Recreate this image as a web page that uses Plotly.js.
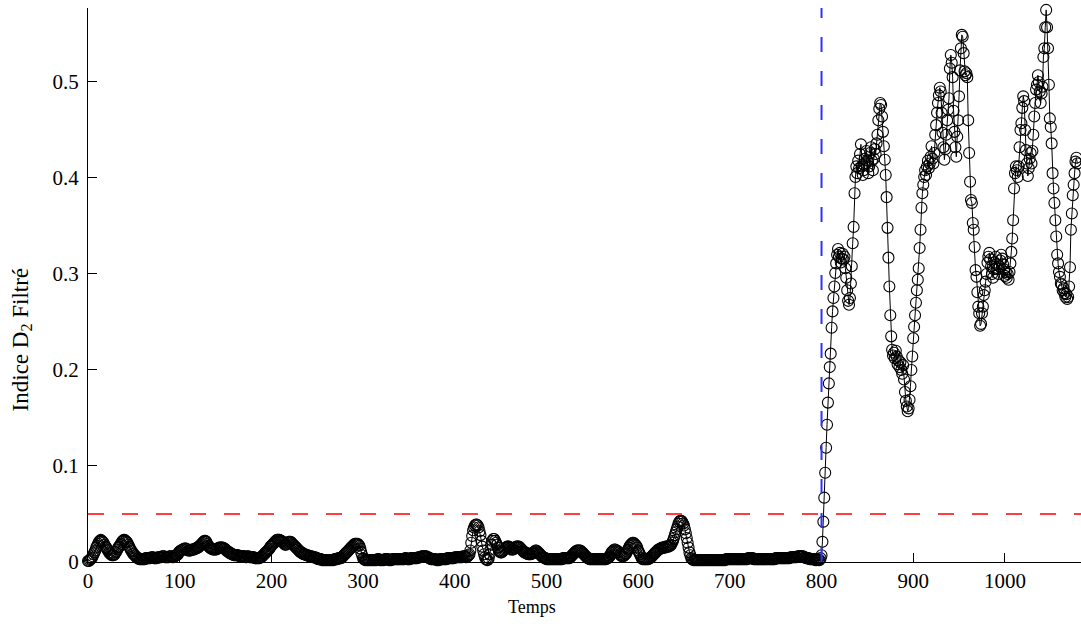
<!DOCTYPE html>
<html>
<head>
<meta charset="utf-8">
<script src="https://cdn.plot.ly/plotly-3.0.1.min.js"></script>
<style>html,body{margin:0;padding:0;background:#fff;}#chart{width:1081px;height:624px;}</style>
</head>
<body>
<div id="chart"></div>
<script>
// ---- Data (one sample per time unit) ----
// Phase 1: t = 0 .. 795
const debutPhase1 = 0;
const indicePhase1 = [
 0.001,0.001,0.002,0.003,0.004,0.006,0.008,0.010,0.012,0.015,0.017,0.019,0.021,0.022,0.023,0.022,0.021,0.020,0.018,0.016,
 0.015,0.013,0.012,0.010,0.009,0.008,0.007,0.007,0.007,0.008,0.010,0.011,0.013,0.015,0.016,0.018,0.019,0.021,0.022,0.023,
 0.023,0.022,0.021,0.020,0.018,0.016,0.014,0.012,0.011,0.009,0.008,0.007,0.006,0.005,0.004,0.004,0.003,0.003,0.003,0.003,
 0.003,0.003,0.003,0.004,0.004,0.004,0.004,0.004,0.004,0.005,0.005,0.005,0.004,0.004,0.004,0.004,0.005,0.005,0.005,0.005,
 0.005,0.006,0.006,0.006,0.005,0.005,0.005,0.005,0.005,0.006,0.006,0.006,0.005,0.005,0.006,0.006,0.007,0.007,0.008,0.010,
 0.011,0.012,0.012,0.013,0.013,0.014,0.014,0.014,0.013,0.012,0.012,0.012,0.012,0.013,0.013,0.013,0.013,0.014,0.014,0.015,
 0.015,0.016,0.017,0.018,0.019,0.020,0.021,0.022,0.022,0.021,0.019,0.017,0.016,0.015,0.014,0.014,0.013,0.013,0.013,0.013,
 0.013,0.014,0.014,0.015,0.015,0.015,0.015,0.015,0.014,0.014,0.013,0.012,0.011,0.011,0.010,0.009,0.009,0.008,0.008,0.007,
 0.007,0.007,0.007,0.007,0.007,0.006,0.006,0.006,0.006,0.006,0.006,0.006,0.005,0.005,0.006,0.006,0.005,0.005,0.005,0.005,
 0.005,0.005,0.004,0.004,0.004,0.004,0.004,0.004,0.005,0.005,0.006,0.007,0.008,0.009,0.010,0.011,0.012,0.013,0.014,0.016,
 0.017,0.018,0.019,0.020,0.021,0.022,0.023,0.023,0.023,0.023,0.022,0.022,0.021,0.020,0.019,0.018,0.018,0.019,0.020,0.021,
 0.021,0.021,0.020,0.019,0.018,0.017,0.016,0.015,0.014,0.013,0.012,0.011,0.010,0.010,0.009,0.008,0.008,0.008,0.007,0.007,
 0.007,0.006,0.006,0.006,0.006,0.005,0.005,0.005,0.005,0.004,0.004,0.003,0.003,0.003,0.003,0.002,0.002,0.002,0.002,0.002,
 0.002,0.002,0.002,0.002,0.002,0.002,0.002,0.002,0.002,0.003,0.003,0.003,0.003,0.004,0.004,0.004,0.004,0.005,0.006,0.007,
 0.008,0.009,0.010,0.011,0.012,0.013,0.014,0.015,0.016,0.017,0.018,0.019,0.019,0.019,0.019,0.018,0.017,0.014,0.010,0.007,
 0.004,0.003,0.002,0.002,0.002,0.002,0.002,0.002,0.002,0.002,0.002,0.002,0.002,0.002,0.002,0.002,0.003,0.003,0.002,0.002,
 0.002,0.002,0.002,0.002,0.003,0.003,0.003,0.003,0.002,0.002,0.002,0.002,0.003,0.003,0.003,0.003,0.003,0.003,0.003,0.003,
 0.003,0.003,0.003,0.003,0.003,0.003,0.004,0.004,0.003,0.003,0.003,0.003,0.004,0.004,0.004,0.004,0.004,0.004,0.004,0.004,
 0.005,0.005,0.005,0.005,0.006,0.006,0.006,0.006,0.006,0.006,0.005,0.005,0.004,0.004,0.003,0.003,0.003,0.003,0.003,0.003,
 0.002,0.002,0.002,0.002,0.003,0.003,0.003,0.003,0.003,0.003,0.003,0.003,0.004,0.004,0.004,0.004,0.004,0.004,0.004,0.004,
 0.005,0.005,0.005,0.005,0.005,0.005,0.005,0.005,0.005,0.006,0.006,0.006,0.005,0.005,0.006,0.007,0.008,0.012,0.020,0.027,
 0.033,0.036,0.038,0.039,0.039,0.038,0.036,0.032,0.028,0.022,0.016,0.012,0.008,0.005,0.003,0.002,0.002,0.004,0.008,0.013,
 0.018,0.022,0.024,0.024,0.022,0.020,0.018,0.015,0.012,0.011,0.010,0.010,0.011,0.012,0.013,0.014,0.015,0.016,0.016,0.016,
 0.015,0.014,0.013,0.013,0.013,0.014,0.015,0.016,0.016,0.016,0.016,0.015,0.014,0.013,0.012,0.011,0.010,0.010,0.009,0.009,
 0.008,0.008,0.008,0.008,0.009,0.009,0.010,0.011,0.012,0.012,0.011,0.010,0.009,0.008,0.007,0.006,0.005,0.005,0.004,0.004,
 0.003,0.003,0.003,0.003,0.003,0.003,0.003,0.003,0.003,0.003,0.003,0.003,0.003,0.003,0.003,0.003,0.003,0.003,0.004,0.004,
 0.004,0.004,0.004,0.004,0.004,0.004,0.005,0.006,0.007,0.008,0.009,0.010,0.011,0.012,0.012,0.012,0.012,0.012,0.011,0.010,
 0.009,0.008,0.007,0.006,0.005,0.004,0.004,0.003,0.003,0.003,0.003,0.003,0.003,0.003,0.003,0.003,0.003,0.003,0.003,0.003,
 0.003,0.003,0.003,0.003,0.003,0.003,0.004,0.004,0.005,0.006,0.008,0.010,0.011,0.012,0.013,0.013,0.012,0.012,0.011,0.010,
 0.008,0.007,0.006,0.006,0.006,0.007,0.008,0.009,0.011,0.013,0.015,0.017,0.018,0.019,0.020,0.020,0.019,0.018,0.017,0.015,
 0.012,0.010,0.008,0.006,0.004,0.003,0.003,0.003,0.003,0.003,0.003,0.003,0.004,0.004,0.005,0.006,0.007,0.008,0.009,0.010,
 0.011,0.012,0.013,0.013,0.014,0.014,0.015,0.015,0.015,0.015,0.016,0.016,0.016,0.016,0.017,0.017,0.018,0.020,0.022,0.025,
 0.028,0.031,0.034,0.037,0.040,0.042,0.043,0.043,0.042,0.040,0.038,0.034,0.030,0.025,0.020,0.015,0.010,0.007,0.004,0.003,
 0.002,0.002,0.002,0.002,0.002,0.002,0.002,0.002,0.002,0.002,0.002,0.002,0.002,0.002,0.002,0.002,0.002,0.002,0.002,0.002,
 0.002,0.002,0.002,0.002,0.002,0.002,0.002,0.002,0.002,0.002,0.002,0.002,0.002,0.002,0.002,0.002,0.003,0.003,0.003,0.003,
 0.003,0.003,0.003,0.003,0.003,0.003,0.003,0.003,0.003,0.003,0.003,0.003,0.003,0.003,0.003,0.003,0.003,0.003,0.003,0.003,
 0.004,0.004,0.004,0.004,0.004,0.004,0.003,0.003,0.003,0.003,0.003,0.003,0.003,0.003,0.003,0.003,0.003,0.003,0.003,0.003,
 0.003,0.003,0.003,0.003,0.003,0.003,0.003,0.003,0.003,0.003,0.004,0.004,0.004,0.004,0.004,0.004,0.004,0.004,0.004,0.004,
 0.004,0.004,0.004,0.004,0.004,0.004,0.005,0.005,0.005,0.005,0.005,0.005,0.005,0.005,0.006,0.006,0.006,0.006,0.006,0.006,
 0.006,0.005,0.005,0.004,0.004,0.004,0.004,0.003,0.003,0.003,0.003,0.003,0.003,0.002,0.002,0.002
];
// Phase 2: t = 796 .. 1079
const debutPhase2 = 796;
const indicePhase2 = [
 0.003,0.002,0.002,0.004,0.007,0.021,0.042,0.067,0.093,0.119,
 0.143,0.166,0.186,0.203,0.217,0.244,0.261,0.275,0.287,0.301,
 0.311,0.320,0.326,0.318,0.322,0.312,0.316,0.321,0.315,0.318,
 0.306,0.296,0.283,0.272,0.268,0.275,0.290,0.308,0.332,0.349,
 0.384,0.401,0.412,0.405,0.418,0.410,0.425,0.435,0.412,0.403,
 0.408,0.420,0.415,0.428,0.418,0.405,0.412,0.426,0.432,0.418,
 0.408,0.420,0.430,0.425,0.436,0.445,0.460,0.472,0.478,0.476,
 0.464,0.448,0.433,0.419,0.403,0.380,0.348,0.317,0.287,0.257,
 0.235,0.221,0.215,0.218,0.212,0.220,0.214,0.206,0.210,0.203,
 0.208,0.200,0.196,0.205,0.190,0.177,0.168,0.162,0.157,0.160,
 0.169,0.183,0.200,0.214,0.233,0.245,0.257,0.270,0.283,0.294,
 0.306,0.327,0.346,0.369,0.384,0.393,0.401,0.408,0.403,0.412,
 0.418,0.410,0.415,0.422,0.433,0.420,0.415,0.426,0.445,0.455,
 0.468,0.478,0.486,0.494,0.490,0.468,0.447,0.432,0.419,0.430,
 0.445,0.460,0.471,0.483,0.514,0.528,0.520,0.505,0.470,0.448,
 0.432,0.422,0.443,0.460,0.485,0.512,0.535,0.549,0.547,0.530,
 0.511,0.507,0.509,0.505,0.460,0.426,0.396,0.377,0.374,0.353,
 0.346,0.328,0.304,0.297,0.281,0.266,0.259,0.246,0.248,0.259,
 0.266,0.278,0.283,0.292,0.300,0.312,0.318,0.322,0.315,0.308,
 0.300,0.296,0.305,0.312,0.318,0.310,0.305,0.300,0.308,0.314,
 0.320,0.316,0.310,0.305,
 0.298,0.302,0.296,0.300,0.294,0.302,0.311,0.323,0.337,0.356,
 0.389,0.405,0.412,0.408,0.401,0.412,0.432,0.450,0.457,0.473,
 0.485,0.480,0.450,0.429,0.415,0.402,0.410,0.420,0.426,0.415,
 0.428,0.445,0.464,0.478,0.492,0.497,0.507,0.500,0.490,0.478,
 0.488,0.495,0.526,0.535,0.557,0.575,0.557,0.535,0.497,0.462,
 0.453,0.436,0.405,0.389,0.374,0.356,0.339,0.320,0.311,0.302,
 0.297,0.290,0.289,0.283,0.285,0.280,0.276,0.279,0.274,0.276,
 0.287,0.307,0.346,0.363,0.382,0.393,0.405,0.417,0.421,0.415
];
const seuil = 0.05;            // red dashed threshold
const instantChangement = 800; // blue dashed change time
const xTicks = [0,100,200,300,400,500,600,700,800,900,1000];
const yTicks = [0,0.1,0.2,0.3,0.4,0.5];
const yTickLabels = ['0','0.1','0.2','0.3','0.4','0.5'];
const titreX = 'Temps';
const titreY = 'Indice D<sub>2</sub> Filtré';

// ---- Build series ----
const temps = [], indice = [];
indicePhase1.forEach((v, i) => { temps.push(debutPhase1 + i); indice.push(v); });
indicePhase2.forEach((v, i) => { temps.push(debutPhase2 + i); indice.push(v); });

const font = 'Liberation Serif, Times New Roman, serif';

const trace = {
  x: temps, y: indice, type: 'scatter', mode: 'lines+markers', cliponaxis: false,
  line: {color: '#000', width: 1},
  marker: {symbol: 'circle-open', size: 11, color: '#000', line: {width: 1.1, color: '#000'}},
  hoverinfo: 'skip', showlegend: false
};

const layout = {
  width: 1081, height: 624,
  margin: {l: 88, r: 0, t: 8, b: 62},
  paper_bgcolor: '#fff', plot_bgcolor: '#fff',
  showlegend: false,
  font: {family: font, color: '#000', size: 21},
  xaxis: {
    range: [0, 1083], tickvals: xTicks, ticks: 'inside', ticklen: 9, tickcolor: '#000',
    showline: true, linecolor: '#000', linewidth: 1, showgrid: false, zeroline: false,
    tickfont: {family: font, size: 21, color: '#000'}, ticklabelstandoff: 0
  },
  yaxis: {
    range: [0, 0.577], tickvals: yTicks, ticktext: yTickLabels, ticks: 'inside', ticklen: 9, tickcolor: '#000',
    showline: true, linecolor: '#000', linewidth: 1, showgrid: false, zeroline: false,
    tickfont: {family: font, size: 21, color: '#000'}, ticklabelstandoff: 4
  },
  shapes: [
    {type: 'line', xref: 'paper', x0: 0, x1: 1, yref: 'y', y0: seuil, y1: seuil,
     line: {color: '#ff0000', width: 1.5, dash: '16px,18px'}, layer: 'above'},
    {type: 'line', xref: 'x', x0: instantChangement, x1: instantChangement, yref: 'paper', y0: 0, y1: 1,
     line: {color: '#3030ff', width: 2, dash: '15px,19px'}, layer: 'above'}
  ],
  annotations: [
    {text: titreX, xref: 'paper', yref: 'paper', x: 0.447, y: 0, yshift: -45, xanchor: 'center', yanchor: 'middle',
     showarrow: false, font: {family: font, size: 18, color: '#000'}},
    {text: titreY, xref: 'paper', yref: 'paper', x: 0, xshift: -66, y: 0.40, textangle: -90, xanchor: 'center', yanchor: 'middle',
     showarrow: false, font: {family: font, size: 23, color: '#000'}}
  ]
};

Plotly.newPlot('chart', [trace], layout, {staticPlot: true, displayModeBar: false});
</script>
</body>
</html>
